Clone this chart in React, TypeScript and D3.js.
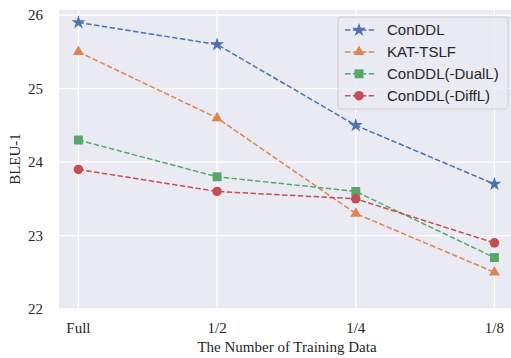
import React from 'react';
import * as d3 from 'd3';

const categories = ['Full', '1/2', '1/4', '1/8'];
const yTicks = [22, 23, 24, 25, 26];
const seriesNames = ['ConDDL', 'KAT-TSLF', 'ConDDL(-DualL)', 'ConDDL(-DiffL)'];
const conddl = [25.9, 25.6, 24.5, 23.7];
const katTslf = [25.5, 24.6, 23.3, 22.5];
const dualL = [24.3, 23.8, 23.6, 22.7];
const diffL = [23.9, 23.6, 23.5, 22.9];
const colors = ['#4C72B0', '#DD8452', '#55A868', '#C44E52'];

const W = 511;
const H = 358;
const margin = { left: 59, top: 10, bottom: 49 };

const symbols = [
  { type: d3.symbolStar, size: 60 },
  { type: d3.symbolTriangle, size: 52 },
  { type: d3.symbolSquare, size: 80 },
  { type: d3.symbolCircle, size: 72 },
];

export default function App() {
  const series = [conddl, katTslf, dualL, diffL];

  // axes run a little past the right edge of the picture (cropped figure)
  const x = d3.scaleLinear()
    .domain([-0.14, 3.17])
    .range([margin.left, 518]);
  const y = d3.scaleLinear()
    .domain([22, 26.07])
    .range([H - margin.bottom, margin.top]);

  const line = d3.line<number>()
    .x((d, i) => x(i))
    .y(d => y(d));

  const serif = '"Liberation Serif", "Times New Roman", serif';
  const sans = '"Liberation Sans", Arial, sans-serif';

  const legX = 338, legY = 17, legW = 170, legH = 92;
  const rowH = 21.9;

  return (
    <div style={{ position: 'absolute', left: 0, top: 0 }}>
      <svg width={W} height={H} style={{ display: 'block', background: '#fff' }}>
        <rect x={margin.left} y={margin.top}
          width={W - margin.left}
          height={H - margin.bottom - margin.top}
          fill="#EAEAF2" />
        {yTicks.map(t => (
          <g key={'y' + t}>
            <line x1={margin.left} x2={W} y1={y(t)} y2={y(t)}
              stroke="#fff" strokeWidth={1.3} />
            <text x={43} y={y(t)} dy="0.35em" textAnchor="end"
              fontFamily={serif} fontSize={15} fill="#262626">{t}</text>
          </g>
        ))}
        {categories.map((c, i) => (
          <g key={'x' + c}>
            <line x1={x(i)} x2={x(i)} y1={margin.top} y2={H - margin.bottom}
              stroke="#fff" strokeWidth={1.3} />
            <text x={x(i)} y={333} textAnchor="middle"
              fontFamily={serif} fontSize={15} fill="#262626">{c}</text>
          </g>
        ))}
        <text x={287} y={352} textAnchor="middle" fontFamily={serif}
          fontSize={15} fill="#262626">The Number of Training Data</text>
        <text transform={`translate(20,159) rotate(-90)`} textAnchor="middle"
          fontFamily={serif} fontSize={15} fill="#262626">BLEU-1</text>

        {series.map((s, k) => (
          <g key={'s' + k}>
            <path d={line(s) || ''} fill="none" stroke={colors[k]}
              strokeWidth={1.5} strokeDasharray="5.5,2.4" />
            {s.map((v, i) => (
              <path key={i}
                d={d3.symbol(symbols[k].type, symbols[k].size)() || ''}
                transform={`translate(${x(i)},${y(v)})`}
                fill={colors[k]} />
            ))}
          </g>
        ))}

        <rect x={legX} y={legY} width={legW} height={legH} rx={3}
          fill="#EAEAF2" fillOpacity={0.8} stroke="#cccccc" strokeWidth={1} />
        {seriesNames.map((n, k) => {
          const cy = legY + 13 + k * rowH;
          return (
            <g key={'l' + k}>
              <line x1={345} x2={375} y1={cy} y2={cy} stroke={colors[k]}
                strokeWidth={1.5} strokeDasharray="5.5,2.4" />
              <path d={d3.symbol(symbols[k].type, symbols[k].size)() || ''}
                transform={`translate(359,${cy})`} fill={colors[k]} />
              <text x={387} y={cy} dy="0.35em" fontFamily={sans}
                fontSize={15} fill="#262626">{n}</text>
            </g>
          );
        })}
      </svg>
    </div>
  );
}
